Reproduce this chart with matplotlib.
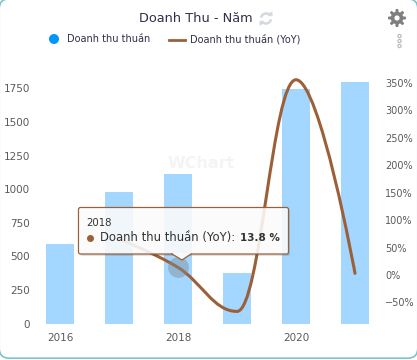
"""Doanh Thu - Nam combo chart (bars + YoY spline + tooltip)."""
import numpy as np
import matplotlib
matplotlib.use('Agg')
import matplotlib.pyplot as plt
from matplotlib.patches import FancyBboxPatch, Circle, Polygon, Rectangle, Arc
from matplotlib.path import Path
from matplotlib.patches import PathPatch

plt.rcParams['font.family'] = ['DejaVu Sans']

W, H = 417, 360

years = [2016, 2017, 2018, 2019, 2020, 2021]
revenue = [592, 979, 1113, 376, 1746, 1798]
yoy = [65.4, 13.8, -66.2, 355, 3.0]  # no YoY for the first year
left_ticks = [0, 250, 500, 750, 1000, 1250, 1500, 1750]
right_ticks = [-50, 0, 50, 100, 150, 200, 250, 300, 350]
xtick_years = [0, 2, 4]

BAR = '#a3d7ff'
LINE = '#9c6039'
TEXT = '#2f2f4a'
TICK = '#5a5a5a'


def spline_path(xs, ys, smoothing=1.5):
    # same idea as the Highcharts spline: control points per point, no overshoot
    denom = smoothing + 1
    n = len(xs)
    left, right = [None] * n, [None] * n
    for i in range(1, n - 1):
        lx = (smoothing * xs[i] + xs[i - 1]) / denom
        ly = (smoothing * ys[i] + ys[i - 1]) / denom
        rx = (smoothing * xs[i] + xs[i + 1]) / denom
        ry = (smoothing * ys[i] + ys[i + 1]) / denom
        c = (ry - ly) * (rx - xs[i]) / (rx - lx) + ys[i] - ry
        ly += c
        ry += c
        if ly > ys[i - 1] and ly > ys[i]:
            ly = max(ys[i - 1], ys[i])
            ry = 2 * ys[i] - ly
        elif ly < ys[i - 1] and ly < ys[i]:
            ly = min(ys[i - 1], ys[i])
            ry = 2 * ys[i] - ly
        if ry > ys[i + 1] and ry > ys[i]:
            ry = max(ys[i + 1], ys[i])
            ly = 2 * ys[i] - ry
        elif ry < ys[i + 1] and ry < ys[i]:
            ry = min(ys[i + 1], ys[i])
            ly = 2 * ys[i] - ry
        left[i] = (lx, ly)
        right[i] = (rx, ry)
    verts = [(xs[0], ys[0])]
    codes = [Path.MOVETO]
    for i in range(1, n):
        c1 = right[i - 1] if right[i - 1] else (xs[i - 1], ys[i - 1])
        c2 = left[i] if left[i] else (xs[i], ys[i])
        verts += [c1, c2, (xs[i], ys[i])]
        codes += [Path.CURVE4] * 3
    return Path(verts, codes)


fig = plt.figure(figsize=(W / 100, H / 100), dpi=100, facecolor='white')

# card behind everything, pixel coordinates (y down)
bg = fig.add_axes([0, 0, 1, 1], zorder=0)
bg.set_xlim(0, W)
bg.set_ylim(H, 0)
bg.axis('off')
bg.add_patch(FancyBboxPatch((-0.8, -1.2), W + 1.6, 359.4,
                            boxstyle='round,pad=0,rounding_size=10',
                            fc='white', ec='#7cc3cc', lw=1.2))
bg.text(201, 163, 'WChart', fontsize=11.5, fontweight='bold', color='#f4f4f4',
        ha='center', va='center')

# plot area
top_px, bot_px, l_px, r_px = 75, 323.5, 30, 378
ax = fig.add_axes([l_px / W, 1 - bot_px / H, (r_px - l_px) / W, (bot_px - top_px) / H],
                  zorder=1)
ax.patch.set_alpha(0)
x = np.arange(len(years))
ax.bar(x, revenue, width=28 / 59, color=BAR, zorder=2)
ax.set_xlim((l_px - 60) / 59, (r_px - 60) / 59)
ax.set_ylim(0, (bot_px - top_px) / 0.1343)
ax.set_xticks(xtick_years, [years[i] for i in xtick_years])
ax.set_yticks(left_ticks)
ax.tick_params(length=0, labelsize=7.5, labelcolor=TICK)
ax.tick_params(axis='x', pad=7)
ax.tick_params(axis='y', pad=0)
for s in ax.spines.values():
    s.set_visible(False)

ax2 = ax.twinx()
ax2.set_zorder(2)
ax2.set_ylim((275 - bot_px) / 0.55, (275 - top_px) / 0.55)
ax2.set_yticks(right_ticks, [f'{v}%'.replace('-', '\u2212') for v in right_ticks])
ax2.tick_params(length=0, labelsize=7, labelcolor=TICK, pad=5)
for s in ax2.spines.values():
    s.set_visible(False)
ax2.add_patch(PathPatch(spline_path(list(x[1:]), yoy), fc='none', ec=LINE, lw=2.2,
                        capstyle='round', zorder=3))
ax2.plot([x[2]], [yoy[1]], 'o', ms=15, color='#7d8a96', alpha=0.45, mec='none', zorder=4)

# header, legend, tooltip on top, again in pixels
ov = fig.add_axes([0, 0, 1, 1], zorder=5)
ov.set_xlim(0, W)
ov.set_ylim(H, 0)
ov.axis('off')
ov.patch.set_alpha(0)

ov.text(195.5, 18, 'Doanh Thu - Năm', fontsize=9.3, color=TEXT, ha='center', va='center')

# refresh icon: two arcs with little arrow heads
ov.add_patch(Arc((266, 18.5), 10, 10, theta1=190, theta2=330, color='#d4d9de', lw=1.8))
ov.add_patch(Arc((266, 18.5), 10, 10, theta1=10, theta2=150, color='#d4d9de', lw=1.8))
ov.add_patch(Polygon([(268, 13.5), (272.5, 11.5), (272.5, 16.5)], fc='#d4d9de', ec='none'))
ov.add_patch(Polygon([(264, 23.5), (259.5, 25.5), (259.5, 20.5)], fc='#d4d9de', ec='none'))

# gear icon
ang = np.linspace(0, 2 * np.pi, 160, endpoint=False)
rad = 7.6 + 1.4 * np.clip(np.cos(8 * ang) * 2.2, -1, 1)
ov.add_patch(Polygon(np.column_stack([397 + rad * np.cos(ang), 18 + rad * np.sin(ang)]),
                     fc='#7f7f7f', ec='none'))
ov.add_patch(Circle((397, 18), 2.6, fc='white', ec='none'))

for py in (36, 41, 46):
    ov.add_patch(Circle((399.5, py), 1.6, fc='white', ec='#bdbdbd', lw=0.9))

ov.add_patch(Circle((54, 39), 5, fc='#0096ff', ec='none'))
ov.text(67.5, 39.5, 'Doanh thu thuần', fontsize=7.0, color=TEXT, va='center')
ov.plot([169, 185], [40, 40], color=LINE, lw=2)
ov.text(190, 39.5, 'Doanh thu thuần (YoY)', fontsize=7.0, color=TEXT, va='center')

# tooltip
ov.add_patch(FancyBboxPatch((80, 209), 210, 47, boxstyle='round,pad=0,rounding_size=2',
                            fc='#000000', ec='none', alpha=0.12))
ov.add_patch(FancyBboxPatch((78.5, 207.5), 210, 46.5, boxstyle='round,pad=0,rounding_size=2',
                            fc='white', ec='none', alpha=0.88))
ov.add_patch(Polygon([(172, 254), (182, 260), (191, 254)], closed=True, fc='#f8f8f8', ec='none'))
ov.add_patch(FancyBboxPatch((78.5, 207.5), 210, 46.5, boxstyle='round,pad=0,rounding_size=2',
                            fc='none', ec=LINE, lw=0.9))
ov.add_patch(Rectangle((173, 252.5), 18, 2.2, fc='#f8f8f8', ec='none'))
ov.plot([172, 182, 191], [254, 260, 254], color=LINE, lw=0.9)
ov.text(86, 223, str(years[2]), fontsize=7.3, color='#333333', va='center')
ov.add_patch(Circle((90.5, 238.5), 3.5, fc=LINE, ec='none'))
ov.text(100, 238, 'Doanh thu thuần (YoY): ', fontsize=8.4, color='#333333', va='center')
ov.text(240, 238, f'{yoy[1]} %', fontsize=7.5, color='#333333', va='center',
        fontweight='bold')

fig.savefig('out.png', dpi=100)
